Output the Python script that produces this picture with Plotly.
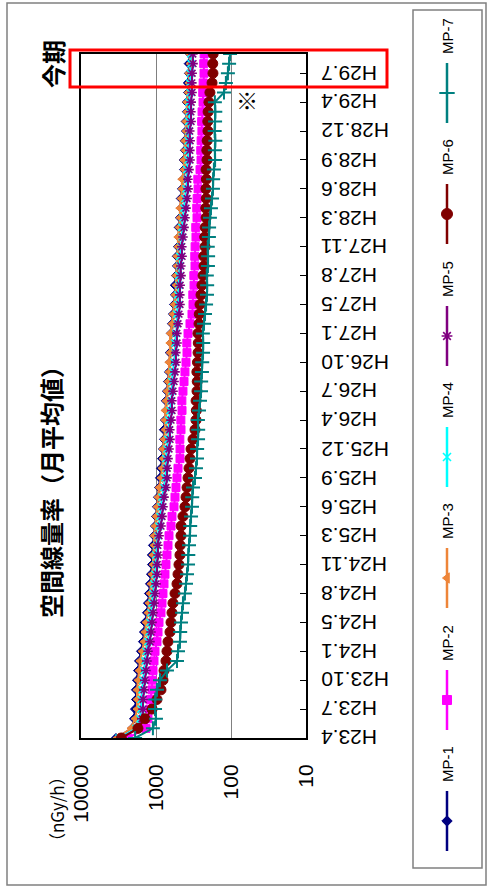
import plotly.graph_objects as go

W, H = 487, 888


def px(x):
    return x / W


def py(y):
    return 1 - y / H


# Monthly categories (no February measurements)
categories = [
    "H23.4", "H23.5", "H23.6", "H23.7", "H23.8", "H23.9", "H23.10", "H23.11", "H23.12",
    "H24.1", "H24.3", "H24.4", "H24.5", "H24.6", "H24.7", "H24.8", "H24.9", "H24.10", "H24.11", "H24.12",
    "H25.1", "H25.3", "H25.4", "H25.5", "H25.6", "H25.7", "H25.8", "H25.9", "H25.10", "H25.11", "H25.12",
    "H26.1", "H26.3", "H26.4", "H26.5", "H26.6", "H26.7", "H26.8", "H26.9", "H26.10", "H26.11", "H26.12",
    "H27.1", "H27.3", "H27.4", "H27.5", "H27.6", "H27.7", "H27.8", "H27.9", "H27.10", "H27.11", "H27.12",
    "H28.1", "H28.3", "H28.4", "H28.5", "H28.6", "H28.7", "H28.8", "H28.9", "H28.10", "H28.11", "H28.12",
    "H29.1", "H29.3", "H29.4", "H29.5", "H29.6", "H29.7", "H29.8", "H29.9",
]

tick_labels = [
    "H23.4", "H23.7", "H23.10", "H24.1", "H24.5", "H24.8", "H24.11", "H25.3",
    "H25.6", "H25.9", "H25.12", "H26.4", "H26.7", "H26.10", "H27.1", "H27.5",
    "H27.8", "H27.11", "H28.3", "H28.6", "H28.9", "H28.12", "H29.4", "H29.7",
]

value_ticks = [10000, 1000, 100, 10]

series_names = ["MP-1", "MP-2", "MP-3", "MP-4", "MP-5", "MP-6", "MP-7"]

# Air dose rate, monthly mean (nGy/h)
mp1 = [3420, 2089, 1965, 1905, 1848, 1852, 1792, 1738, 1685, 1585, 1491, 1445, 1402, 1318, 1279, 1240,
       1202, 1166, 1130, 1134, 1096, 1063, 1031, 1000, 970, 940, 912, 885, 858, 832, 807, 782,
       785, 759, 736, 739, 714, 692, 671, 651, 654, 631, 634, 612, 594, 575, 558, 561,
       541, 525, 528, 509, 494, 497, 479, 464, 467, 450, 437, 423, 426, 411, 414, 398,
       401, 386, 389, 374, 376, 363, 366, 352]
mp2 = [2360, 1359, 1279, 1202, 1195, 1130, 1125, 1096, 1063, 1031, 970, 940, 912, 858, 832, 807,
       782, 759, 736, 714, 692, 671, 631, 612, 575, 558, 541, 525, 509, 479, 478, 481,
       464, 466, 450, 452, 437, 423, 411, 398, 386, 388, 374, 352, 331, 321, 323, 311,
       313, 302, 304, 301, 293, 295, 284, 286, 283, 275, 277, 259, 251, 253, 250, 244,
       246, 243, 236, 238, 235, 229, 231, 228]
mp3 = [3310, 2155, 1905, 1792, 1790, 1795, 1738, 1685, 1635, 1537, 1445, 1402, 1359, 1279, 1240, 1202,
       1166, 1130, 1096, 1100, 1063, 1060, 1031, 1000, 970, 940, 912, 858, 832, 807, 810, 782,
       759, 762, 757, 736, 714, 692, 671, 674, 651, 654, 648, 612, 594, 575, 558, 541,
       544, 525, 528, 509, 512, 494, 479, 482, 464, 450, 453, 423, 426, 411, 414, 398,
       401, 386, 389, 374, 363, 365, 352, 355]
mp4 = [3120, 1848, 1635, 1585, 1580, 1537, 1491, 1445, 1402, 1359, 1279, 1240, 1202, 1166, 1130, 1096,
       1063, 1031, 1000, 1004, 970, 940, 912, 885, 858, 832, 782, 759, 736, 739, 714, 692,
       671, 674, 651, 631, 612, 615, 594, 575, 558, 561, 541, 525, 528, 509, 512, 494,
       497, 479, 482, 464, 450, 453, 437, 423, 411, 398, 386, 389, 374, 377, 372, 363,
       366, 361, 364, 352, 355, 350, 341, 344]
mp5 = [2930, 1738, 1537, 1491, 1485, 1445, 1402, 1359, 1318, 1279, 1202, 1166, 1130, 1096, 1063, 1031,
       1000, 970, 965, 940, 945, 912, 858, 832, 807, 782, 736, 714, 710, 692, 671, 651,
       655, 631, 612, 615, 594, 575, 558, 541, 545, 525, 528, 509, 494, 479, 482, 477,
       464, 467, 450, 453, 437, 423, 411, 398, 386, 374, 376, 363, 352, 354, 351, 355,
       341, 343, 340, 331, 333, 330, 321, 323]
mp6 = [2900, 1740, 1400, 1130, 970, 858, 807, 782, 736, 714, 692, 651, 631, 612, 594, 558,
       525, 509, 494, 479, 476, 464, 462, 437, 411, 398, 386, 374, 363, 352, 341, 321,
       302, 293, 290, 292, 284, 282, 285, 280, 275, 273, 276, 267, 265, 259, 251, 244,
       236, 229, 231, 222, 224, 221, 215, 217, 214, 216, 213, 215, 209, 210, 208, 203,
       204, 202, 197, 191, 179, 174, 175, 173]
mp7 = [1900, 1100, 1000, 1030, 1025, 970, 885, 714, 525, 509, 479, 476, 464, 450, 437, 411,
       398, 386, 374, 371, 363, 352, 350, 341, 331, 329, 321, 302, 293, 284, 283, 275,
       274, 276, 267, 259, 251, 250, 244, 242, 236, 235, 237, 229, 222, 215, 209, 208,
       210, 203, 202, 204, 197, 196, 191, 185, 179, 174, 173, 169, 163, 164, 162, 165,
       163, 162, 164, 124, 117, 110, 106, 103]

series_values = [mp1, mp2, mp3, mp4, mp5, mp6, mp7]

series_styles = [
    dict(color="#000080", symbol="diamond", size=7, lw=1),
    dict(color="#FF00FF", symbol="square", size=8, lw=1),
    dict(color="#EE8539", symbol="triangle-left", size=8, lw=1),
    dict(color="#00FFFF", symbol="x-thin-open", size=7, lw=1.6),
    dict(color="#800080", symbol="asterisk-open", size=8, lw=1.6),
    dict(color="#800000", symbol="circle", size=10, lw=1),
    dict(color="#008080", symbol="cross-thin-open", size=10, lw=2),
]

fig = go.Figure()

for name, vals, st in zip(series_names, series_values, series_styles):
    fig.add_trace(go.Scatter(
        x=vals, y=categories, name=name, mode="lines+markers",
        line=dict(color=st["color"], width=2),
        marker=dict(symbol=st["symbol"], size=st["size"], color=st["color"],
                    line=dict(color=st["color"], width=st["lw"])),
        showlegend=False, xaxis="x", yaxis="y", cliponaxis=True,
    ))

# Vertical legend drawn in a pixel-space overlay
legend_x = 447
legend_centers = [821, 700, 578, 457, 336, 214, 93]
for name, st, cy in zip(series_names, series_styles, legend_centers):
    fig.add_trace(go.Scatter(
        x=[legend_x, legend_x], y=[cy - 30, cy + 30], mode="lines",
        line=dict(color=st["color"], width=2.5),
        showlegend=False, hoverinfo="skip", xaxis="x2", yaxis="y2",
    ))
    fig.add_trace(go.Scatter(
        x=[legend_x], y=[cy], mode="markers",
        marker=dict(symbol=st["symbol"], size=st["size"] + 1, color=st["color"],
                    line=dict(color=st["color"], width=st["lw"])),
        showlegend=False, hoverinfo="skip", xaxis="x2", yaxis="y2",
    ))

annotations = []
for name, cy in zip(series_names, legend_centers):
    annotations.append(dict(
        x=px(legend_x), y=py(cy - 57), xref="paper", yref="paper",
        text=name, textangle=-90, showarrow=False,
        xanchor="center", yanchor="middle",
        font=dict(family="Liberation Sans", size=15, color="black"),
    ))

# Date labels, upside down beside the right-hand axis
for lab in tick_labels:
    annotations.append(dict(
        x=px(319), y=categories.index(lab), xref="paper", yref="y",
        text=lab, textangle=180, showarrow=False,
        xanchor="left", yanchor="middle",
        font=dict(family="Liberation Sans", size=21, color="black"),
    ))

jp = "Noto Sans CJK JP"
annotations += [
    dict(x=px(51), y=py(486), xref="paper", yref="paper",
         text="<b>空間線量率（月平均値）</b>", textangle=-90, showarrow=False,
         xanchor="center", yanchor="middle",
         font=dict(family=jp, size=24, color="black")),
    dict(x=px(56), y=py(809), xref="paper", yref="paper",
         text="（nGy/h）", textangle=-90, showarrow=False,
         xanchor="center", yanchor="middle",
         font=dict(family=jp, size=17, color="black")),
    dict(x=px(52), y=py(64), xref="paper", yref="paper",
         text="<b>今期</b>", textangle=-90, showarrow=False,
         xanchor="center", yanchor="middle",
         font=dict(family=jp, size=24, color="black")),
    dict(x=px(247), y=py(99), xref="paper", yref="paper",
         text="※", showarrow=False,
         xanchor="center", yanchor="middle",
         font=dict(family=jp, size=22, color="black")),
]

shapes = [
    dict(type="rect", xref="paper", yref="paper",
         x0=px(7), x1=px(486), y0=py(885), y1=py(3),
         line=dict(color="#808080", width=1.5), layer="below"),
    dict(type="rect", xref="paper", yref="paper",
         x0=px(413), x1=px(482), y0=py(868), y1=py(10),
         line=dict(color="#808080", width=1.5), layer="below"),
    dict(type="rect", xref="paper", yref="paper",
         x0=px(70), x1=px(387), y0=py(87), y1=py(50),
         line=dict(color="#FF0000", width=3)),
]

fig.update_layout(
    width=W, height=H,
    margin=dict(l=0, r=0, t=0, b=0, autoexpand=False),
    paper_bgcolor="white", plot_bgcolor="rgba(0,0,0,0)",
    showlegend=False,
    xaxis=dict(
        domain=[px(81), px(306)], type="log", range=[4, 1], automargin=False,
        tickmode="array", tickvals=value_ticks, ticktext=[str(v) for v in value_ticks],
        tickangle=-90, ticks="", ticklabelstandoff=16,
        tickfont=dict(family="Liberation Sans", size=21, color="black"),
        showgrid=True, gridcolor="#808080", gridwidth=1,
        showline=True, linecolor="black", linewidth=2, mirror=True,
        zeroline=False, anchor="y", fixedrange=True,
    ),
    yaxis=dict(
        domain=[py(738), py(54)], type="category", automargin=False,
        categoryorder="array", categoryarray=categories, range=[0, len(categories) - 1],
        side="right", tickmode="array", tickvals=tick_labels,
        ticks="inside", ticklen=6, tickwidth=1, tickcolor="black",
        showticklabels=False, showgrid=False,
        showline=True, linecolor="black", linewidth=2, mirror=True,
        zeroline=False, anchor="x", fixedrange=True,
    ),
    xaxis2=dict(domain=[0, 1], range=[0, W], visible=False, automargin=False,
                anchor="y2", fixedrange=True),
    yaxis2=dict(domain=[0, 1], range=[H, 0], visible=False, automargin=False,
                anchor="x2", fixedrange=True),
    annotations=annotations,
    shapes=shapes,
)

fig.write_html("out.html", config={"displayModeBar": False})
